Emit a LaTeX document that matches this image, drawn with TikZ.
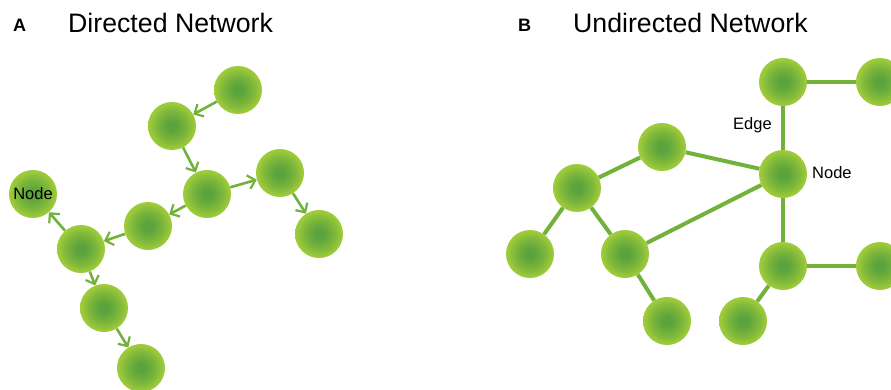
\documentclass[tikz,border=0pt]{standalone}
\usepackage{fontspec}
\setmainfont{Liberation Sans}
\usetikzlibrary{arrows.meta}
\definecolor{ballin}{HTML}{5BA43D}
\definecolor{ballmid}{HTML}{7EB73A}
\definecolor{ballout}{HTML}{9ECB3A}
\definecolor{edgecol}{HTML}{72B13A}
\pgfdeclareradialshading{ball}{\pgfpoint{0bp}{0bp}}{color(0bp)=(ballin); color(5bp)=(ballin); color(16bp)=(ballmid); color(24bp)=(ballout); color(50bp)=(ballout)}
\tikzset{
  ballnode/.style={circle, minimum size=48pt, inner sep=0pt, shading=ball, font=\fontsize{16.5}{18}\selectfont},
  dedge/.style={draw=edgecol, line width=2.6pt, -{Straight Barb[length=7pt,width=14pt,line width=2.2pt]}},
  uedge/.style={draw=edgecol, line width=4pt},
  title/.style={anchor=base west, inner sep=0pt, font=\fontsize{26.7}{32}\selectfont},
  panel/.style={anchor=base west, inner sep=0pt, font=\fontsize{18}{20}\selectfont\bfseries},
  lbl/.style={anchor=base west, inner sep=0pt, font=\fontsize{16.5}{18}\selectfont}
}
\begin{document}
\begin{tikzpicture}[x=1pt,y=-1pt]
\useasboundingbox (0,0) rectangle (891,389);
\clip (0,0) rectangle (891,389);
% titles
\node[panel] (pa) at (13,31) {A};
\node[title] (ta) at (68,32) {Directed Network};
\node[panel] (pb) at (518,31) {B};
\node[title] (tb) at (573,32) {Undirected Network};
% Panel A
\node[ballnode] (a1) at (238,90) {};
\node[ballnode] (a2) at (172,126) {};
\node[ballnode] (a3) at (207,194) {};
\node[ballnode] (a4) at (280,173) {};
\node[ballnode] (a5) at (319,234) {};
\node[ballnode] (a6) at (148,226) {};
\node[ballnode] (a7) at (81,249) {};
\node[ballnode] (a0) at (33,194) {Node};
\node[ballnode] (a8) at (104,308) {};
\node[ballnode] (a9) at (141,368) {};
\draw[dedge] (a1) -- (a2);
\draw[dedge] (a2) -- (a3);
\draw[dedge] (a3) -- (a4);
\draw[dedge] (a4) -- (a5);
\draw[dedge] (a3) -- (a6);
\draw[dedge] (a6) -- (a7);
\draw[dedge] (a7) -- (a0);
\draw[dedge] (a7) -- (a8);
\draw[dedge] (a8) -- (a9);
% Panel B
\node[ballnode] (b1) at (783,82) {};
\node[ballnode] (b2) at (880,82) {};
\node[ballnode] (hub) at (783,174) {};
\node[ballnode] (b3) at (662,147) {};
\node[ballnode] (b4) at (577,188) {};
\node[ballnode] (b5) at (530,254) {};
\node[ballnode] (b6) at (625,254) {};
\node[ballnode] (b7) at (667,321) {};
\node[ballnode] (b8) at (783,266) {};
\node[ballnode] (b9) at (880,266) {};
\node[ballnode] (b10) at (743,321) {};
\draw[uedge] (b1) -- (b2);
\draw[uedge] (b1) -- (hub);
\draw[uedge] (b3) -- (hub);
\draw[uedge] (b4) -- (b3);
\draw[uedge] (b4) -- (b5);
\draw[uedge] (b4) -- (b6);
\draw[uedge] (b6) -- (hub);
\draw[uedge] (b6) -- (b7);
\draw[uedge] (hub) -- (b8);
\draw[uedge] (b8) -- (b9);
\draw[uedge] (b8) -- (b10);
\node[lbl] (edgelbl) at (733,129) {Edge};
\node[lbl] (nodelbl) at (812,178) {Node};
\end{tikzpicture}
\end{document}
